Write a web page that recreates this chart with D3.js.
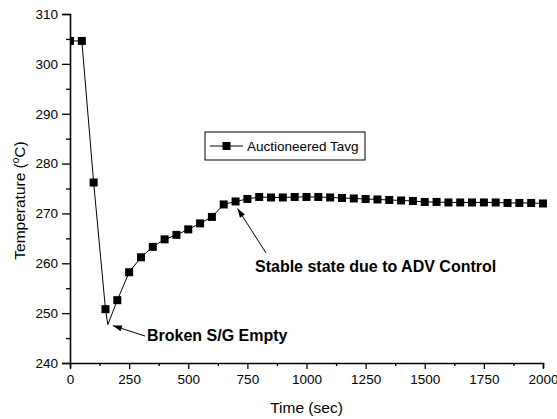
<!DOCTYPE html>
<html>
<head>
<meta charset="utf-8">
<script src="https://cdn.jsdelivr.net/npm/d3@7"></script>
<style>
  body { margin: 0; background: #fff; }
  text { font-family: "Liberation Sans", Arial, sans-serif; fill: #000; }
</style>
</head>
<body>
<div id="chart"></div>
<script>
// sampled times (sec) and Tavg (degC)
const times = [0, 50, 100, 150, 200, 250, 300, 350, 400, 450, 500, 550, 600, 650, 700, 750,
  800, 850, 900, 950, 1000, 1050, 1100, 1150, 1200, 1250, 1300, 1350, 1400, 1450, 1500,
  1550, 1600, 1650, 1700, 1750, 1800, 1850, 1900, 1950, 2000];
const tavg = [304.6, 304.6, 276.2, 250.8, 252.6, 258.2, 261.2, 263.3, 264.8, 265.7, 266.8, 268.0,
  269.3, 271.8, 272.4, 272.9, 273.3, 273.2, 273.2, 273.3, 273.3, 273.3, 273.2, 273.1, 273.0,
  272.9, 272.8, 272.7, 272.6, 272.5, 272.3, 272.3, 272.2, 272.2, 272.2, 272.2, 272.2, 272.1,
  272.1, 272.1, 272.0];
// the curve dips between markers
const dipTime = 160;
const dipTemp = 247.7;

const xTicks = [0, 250, 500, 750, 1000, 1250, 1500, 1750, 2000];
const yTicks = [240, 250, 260, 270, 280, 290, 300, 310];

const W = 557, H = 419;
const MARGIN = { LEFT: 70, RIGHT: 14, TOP: 14, BOTTOM: 56 };

const svg = d3.select("#chart").append("svg")
  .attr("width", W)
  .attr("height", H);

const x = d3.scaleLinear().domain([0, 2000]).range([MARGIN.LEFT, W - MARGIN.RIGHT]);
const y = d3.scaleLinear().domain([240, 310]).range([H - MARGIN.BOTTOM, MARGIN.TOP]);

svg.append("clipPath").attr("id", "plot")
  .append("rect")
  .attr("x", x(0)).attr("y", y(310) - 6)
  .attr("width", x(2000) - x(0) + 6).attr("height", y(240) - y(310) + 6);

// line data: markers plus the dip
const lineData = times.map((t, i) => [t, tavg[i]]);
lineData.push([dipTime, dipTemp]);
lineData.sort((a, b) => a[0] - b[0]);

const plot = svg.append("g").attr("clip-path", "url(#plot)");

plot.append("path")
  .datum(lineData)
  .attr("fill", "none")
  .attr("stroke", "#000")
  .attr("stroke-width", 1)
  .attr("d", d3.line().x(d => x(d[0])).y(d => y(d[1])));

const MS = 8;
plot.selectAll("rect.pt")
  .data(times.map((t, i) => [t, tavg[i]]))
  .enter().append("rect")
  .attr("class", "pt")
  .attr("x", d => x(d[0]) - MS / 2)
  .attr("y", d => y(d[1]) - MS / 2)
  .attr("width", MS)
  .attr("height", MS)
  .attr("fill", "#000");

// axes
const xAxisG = svg.append("g")
  .attr("transform", `translate(0, ${y(240)})`)
  .call(d3.axisBottom(x).tickValues(d3.range(0, 2001, 125)).tickSize(5).tickFormat(""));
xAxisG.selectAll(".tick line").attr("y2", (d) => d % 250 === 0 ? 6 : 3);
const xLab = svg.append("g").attr("transform", `translate(0, ${y(240)})`)
  .call(d3.axisBottom(x).tickValues(xTicks).tickSize(6).tickPadding(5).tickFormat(d3.format("d")));
xLab.select(".domain").remove();
xLab.selectAll(".tick line").remove();

const yAxisG = svg.append("g")
  .attr("transform", `translate(${x(0)}, 0)`)
  .call(d3.axisLeft(y).tickValues(d3.range(240, 311, 5)).tickSize(8).tickFormat(""));
yAxisG.selectAll(".tick line").attr("x2", d => d % 10 === 0 ? -8 : -4);
const yLab = svg.append("g").attr("transform", `translate(${x(0)}, 0)`)
  .call(d3.axisLeft(y).tickValues(yTicks).tickSize(8).tickPadding(4).tickFormat(d3.format("d")));
yLab.select(".domain").remove();
yLab.selectAll(".tick line").remove();

svg.selectAll(".domain").attr("stroke", "#000").attr("stroke-width", 1.6);
svg.selectAll(".tick line").attr("stroke", "#000").attr("stroke-width", 1.3);
svg.selectAll(".tick text")
  .attr("font-family", "Liberation Sans, Arial, sans-serif")
  .attr("font-size", "13.5px")
  .attr("fill", "#000");

// axis titles
svg.append("text")
  .attr("x", (x(0) + x(2000)) / 2)
  .attr("y", 413)
  .attr("text-anchor", "middle")
  .attr("font-size", "15.5px")
  .text("Time (sec)");

const yTitle = svg.append("text")
  .attr("transform", `translate(25, ${(y(240) + y(310)) / 2 + 12}) rotate(-90)`)
  .attr("text-anchor", "middle")
  .attr("font-size", "15.5px");
yTitle.append("tspan").text("Temperature (");
yTitle.append("tspan").attr("font-size", "10px").attr("dy", "-6").text("o");
yTitle.append("tspan").attr("dy", "6").text("C)");

// legend
const lg = svg.append("g").attr("transform", "translate(205, 132)");
lg.append("rect")
  .attr("width", 160).attr("height", 28)
  .attr("fill", "#fff").attr("stroke", "#000").attr("stroke-width", 1);
lg.append("line").attr("x1", 5).attr("x2", 38).attr("y1", 14).attr("y2", 14)
  .attr("stroke", "#000");
lg.append("rect").attr("x", 21.5 - MS / 2).attr("y", 14 - MS / 2)
  .attr("width", MS).attr("height", MS).attr("fill", "#000");
lg.append("text").attr("x", 42).attr("y", 19)
  .attr("font-size", "13.5px")
  .text("Auctioneered Tavg");

// annotations
function arrow(x1, y1, x2, y2) {
  svg.append("line")
    .attr("x1", x1).attr("y1", y1).attr("x2", x2).attr("y2", y2)
    .attr("stroke", "#000").attr("stroke-width", 1);
  const a = Math.atan2(y2 - y1, x2 - x1);
  const L = 9, w = 3;
  const bx = x2 - L * Math.cos(a), by = y2 - L * Math.sin(a);
  svg.append("path")
    .attr("d", `M${x2},${y2}L${bx - w * Math.sin(a)},${by + w * Math.cos(a)}L${bx + w * Math.sin(a)},${by - w * Math.cos(a)}Z`)
    .attr("fill", "#000");
}

arrow(145, 336, x(dipTime) + 5, y(dipTemp) + 1);
svg.append("text")
  .attr("x", 147).attr("y", 341)
  .attr("font-size", "16px").attr("font-weight", "bold")
  .text("Broken S/G Empty");

arrow(266, 253, x(700) + 2, y(272.4) + 7);
svg.append("text")
  .attr("x", 255).attr("y", 272)
  .attr("font-size", "16px").attr("font-weight", "bold")
  .text("Stable state due to ADV Control");
</script>
</body>
</html>
